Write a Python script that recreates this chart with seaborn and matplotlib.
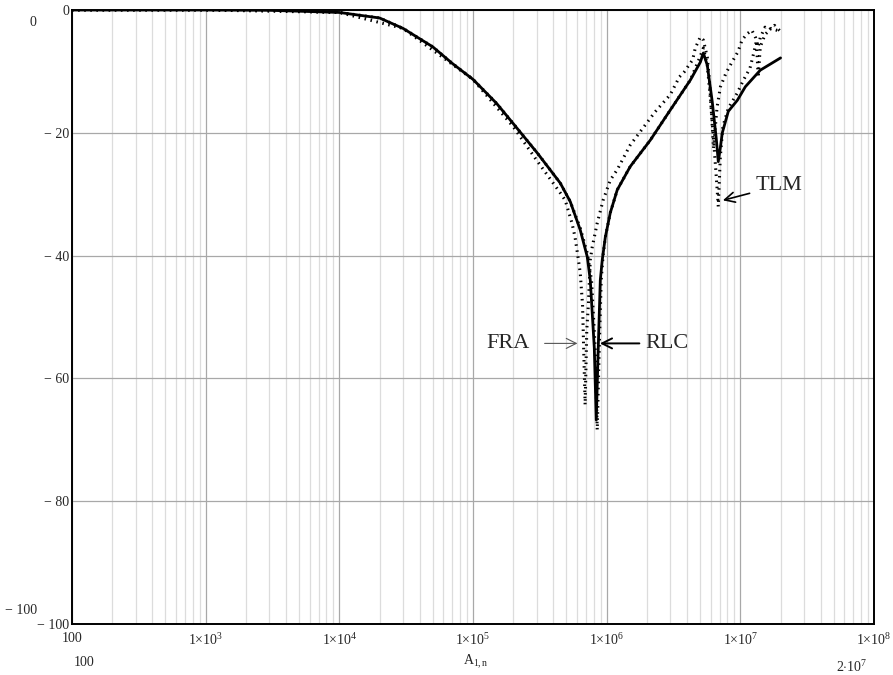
import matplotlib
matplotlib.use("Agg")
import matplotlib.pyplot as plt
import seaborn as sns
import pandas as pd

sns.set_theme(style="white")
plt.rcParams["font.family"] = ["Liberation Serif", "DejaVu Serif"]
plt.rcParams["mathtext.fontset"] = "custom"
plt.rcParams["mathtext.rm"] = "Liberation Serif"
plt.rcParams["mathtext.it"] = "Liberation Serif:italic"

# ---- data (frequency in Hz, gain in dB) ----
rlc_f = [1e2, 1e3, 3e3, 1e4, 2e4, 3e4, 5e4, 7e4, 1e5, 1.5e5, 2e5, 3.03e5, 4.5e5,
         5.34e5, 6.34e5, 7.16e5, 7.54e5, 8.08e5, 8.36e5, 8.65e5, 8.96e5, 9.27e5,
         9.77e5, 1.065e6, 1.2e6, 1.5e6, 2.12e6, 2.99e6, 4.23e6, 5.02e6, 5.29e6,
         5.66e6, 6.17e6, 6.61e6, 6.84e6, 7.08e6, 7.33e6, 8.13e6, 9.5e6, 1.09e7,
         1.41e7, 2e7]
rlc_db = [0, 0, -0.05, -0.4, -1.3, -3, -6, -8.7, -11.3, -15.2, -18.5, -23.3, -28.2,
          -31.2, -35.8, -40.2, -44, -55, -66.8, -55, -44, -40.7,
          -37, -33, -29.3, -25.5, -21.2, -16.3, -11.4, -8.5, -7.0,
          -9, -15, -21, -24.7, -22.5, -20, -16.5, -14.7, -12.5,
          -9.8, -7.8]

fra_f = [1e2, 1e3, 1e4, 3e4, 1e5, 2e5, 3e5, 4.5e5, 4.9e5, 5.5e5, 5.8e5, 6.1e5,
         6.34e5, 6.6e5, 6.9e5, 7.1e5, 7.3e5, 7.54e5, 7.8e5, 8.5e5, 9.4e5, 1.065e6,
         1.2e6, 1.5e6, 2.3e6, 2.99e6, 3.5e6, 3.8e6, 4.4e6, 4.6e6, 5.02e6, 5.29e6,
         5.66e6, 5.9e6, 6.17e6, 6.3e6, 6.5e6, 6.7e6, 7.1e6, 7.8e6, 8.6e6, 9.6e6,
         1.03e7, 1.12e7, 1.22e7, 1.3e7, 1.36e7, 1.41e7, 1.53e7, 1.65e7, 1.8e7, 2e7]
fra_db = [0, 0, -0.4, -3, -11.3, -19, -24.5, -29.8, -31, -34.7, -37, -40.2,
          -42.8, -48, -64.3, -52, -48, -40.7, -38.6, -34.7, -31, -27.7,
          -26, -22, -16.6, -13.8, -10.9, -10.1, -8.1, -6.2, -4.4, -4.9,
          -7.7, -12, -19, -22.5, -19, -15.8, -12.5, -10.3, -8.6, -6.8,
          -4.9, -3.9, -3.3, -4.5, -6, -4.5, -2.8, -3.2, -2.5, -3.5]

tlm_f = [1e2, 1e3, 3e3, 1e4, 2e4, 3e4, 5e4, 7e4, 1e5, 1.5e5, 2e5, 3.03e5, 4.5e5,
         5.34e5, 6.34e5, 7.16e5, 7.7e5, 8.2e5, 8.5e5, 8.8e5, 9.1e5, 9.4e5,
         9.77e5, 1.065e6, 1.2e6, 1.5e6, 2.12e6, 2.99e6, 4.23e6, 5.02e6, 5.29e6,
         5.66e6, 6.0e6, 6.3e6, 6.6e6, 6.84e6, 7.08e6, 7.4e6, 8.13e6, 9.5e6, 1.05e7,
         1.18e7, 1.26e7, 1.32e7, 1.36e7, 1.41e7, 1.53e7, 1.7e7, 2e7]
tlm_db = [0, 0, -0.05, -0.4, -1.3, -3, -6, -8.7, -11.3, -15.2, -18.5, -23.3, -28.2,
          -31.2, -35.5, -39.6, -44, -55, -68.4, -55, -44, -40,
          -37, -33, -29.3, -25.5, -21.2, -16.3, -11.4, -7.5, -6.2,
          -9, -15, -21, -27, -32, -24, -19, -16, -13.5, -11.5,
          -9.5, -7, -5, -11, -6, -4, -3, -3.5]

x_ticks = [1e2, 1e3, 1e4, 1e5, 1e6, 1e7, 1e8]
x_labels = ["100", r"$1{\times}10^{3}$", r"$1{\times}10^{4}$", r"$1{\times}10^{5}$",
            r"$1{\times}10^{6}$", r"$1{\times}10^{7}$", r"$1{\times}10^{8}$"]
y_ticks = [0, -20, -40, -60, -80, -100]
y_labels = ["0", "\u2212 20", "\u2212 40", "\u2212 60", "\u2212 80", "\u2212 100"]

fig = plt.figure(figsize=(8.93, 6.75), dpi=100)
ax = fig.add_axes([72 / 893, 51 / 675, 802 / 893, 614 / 675])

rlc = pd.DataFrame({"f": rlc_f, "db": rlc_db})
fra = pd.DataFrame({"f": fra_f, "db": fra_db})
tlm = pd.DataFrame({"f": tlm_f, "db": tlm_db})

sns.lineplot(data=rlc, x="f", y="db", ax=ax, color="black", linewidth=2.0, sort=False)
sns.lineplot(data=fra, x="f", y="db", ax=ax, color="black", linewidth=2.2,
             linestyle=(0, (0.5, 1.5)), sort=False)
sns.lineplot(data=tlm, x="f", y="db", ax=ax, color="black", linewidth=2.2,
             linestyle=(0, (0.5, 1.5)), sort=False)

ax.set_xscale("log")
ax.set_xlim(1e2, 1e8)
ax.set_ylim(-100, 0)

# grid like mathcad: darker decades, light minors
ax.set_xticks(x_ticks)
ax.set_xticklabels(x_labels, fontsize=10)
ax.set_yticks(y_ticks)
ax.set_yticklabels(y_labels, fontsize=10)
ax.grid(True, which="major", color="#a8a8a8", linewidth=0.9)
ax.grid(True, which="minor", axis="x", color="#dcdcdc", linewidth=0.9)
ax.tick_params(axis="both", which="both", length=0, pad=2)
ax.tick_params(axis="x", pad=6)
ax.set_xlabel("")
ax.set_ylabel("")
for s in ax.spines.values():
    s.set_color("black")
    s.set_linewidth(1.4)

# mathcad limit labels outside the plot
fig.text(33 / 893, 1 - 23 / 675, "0", fontsize=10, ha="center", va="center")
fig.text(37 / 893, 1 - 610 / 675, "\u2212 100", fontsize=10, ha="right", va="center")
fig.text(84 / 893, 1 - 662 / 675, "100", fontsize=10, ha="center", va="center")
fig.text(476 / 893, 1 - 662 / 675, r"A$_{1,\mathrm{n}}$", fontsize=10, ha="center", va="center")
fig.text(852 / 893, 1 - 667 / 675, r"$2{\cdot}10^{7}$", fontsize=10, ha="center", va="center")

# annotations
ax.annotate("FRA", xy=(6.05e5, -54.3), xytext=(2.68e5, -54.3), fontsize=16,
            ha="right", va="center",
            arrowprops=dict(arrowstyle="->", color="#555555", lw=0.8,
                            mutation_scale=18, shrinkA=8, shrinkB=0))
ax.annotate("RLC", xy=(8.9e5, -54.3), xytext=(1.95e6, -54.3), fontsize=16,
            ha="left", va="center",
            arrowprops=dict(arrowstyle="->", color="black", lw=1.4,
                            mutation_scale=18, shrinkA=2, shrinkB=0))
ax.annotate("TLM", xy=(7.4e6, -31), xytext=(1.3e7, -28.6), fontsize=16,
            ha="left", va="center",
            arrowprops=dict(arrowstyle="->", color="black", lw=1.2,
                            mutation_scale=18, shrinkA=2, shrinkB=0))

fig.savefig("out.png", dpi=100)
